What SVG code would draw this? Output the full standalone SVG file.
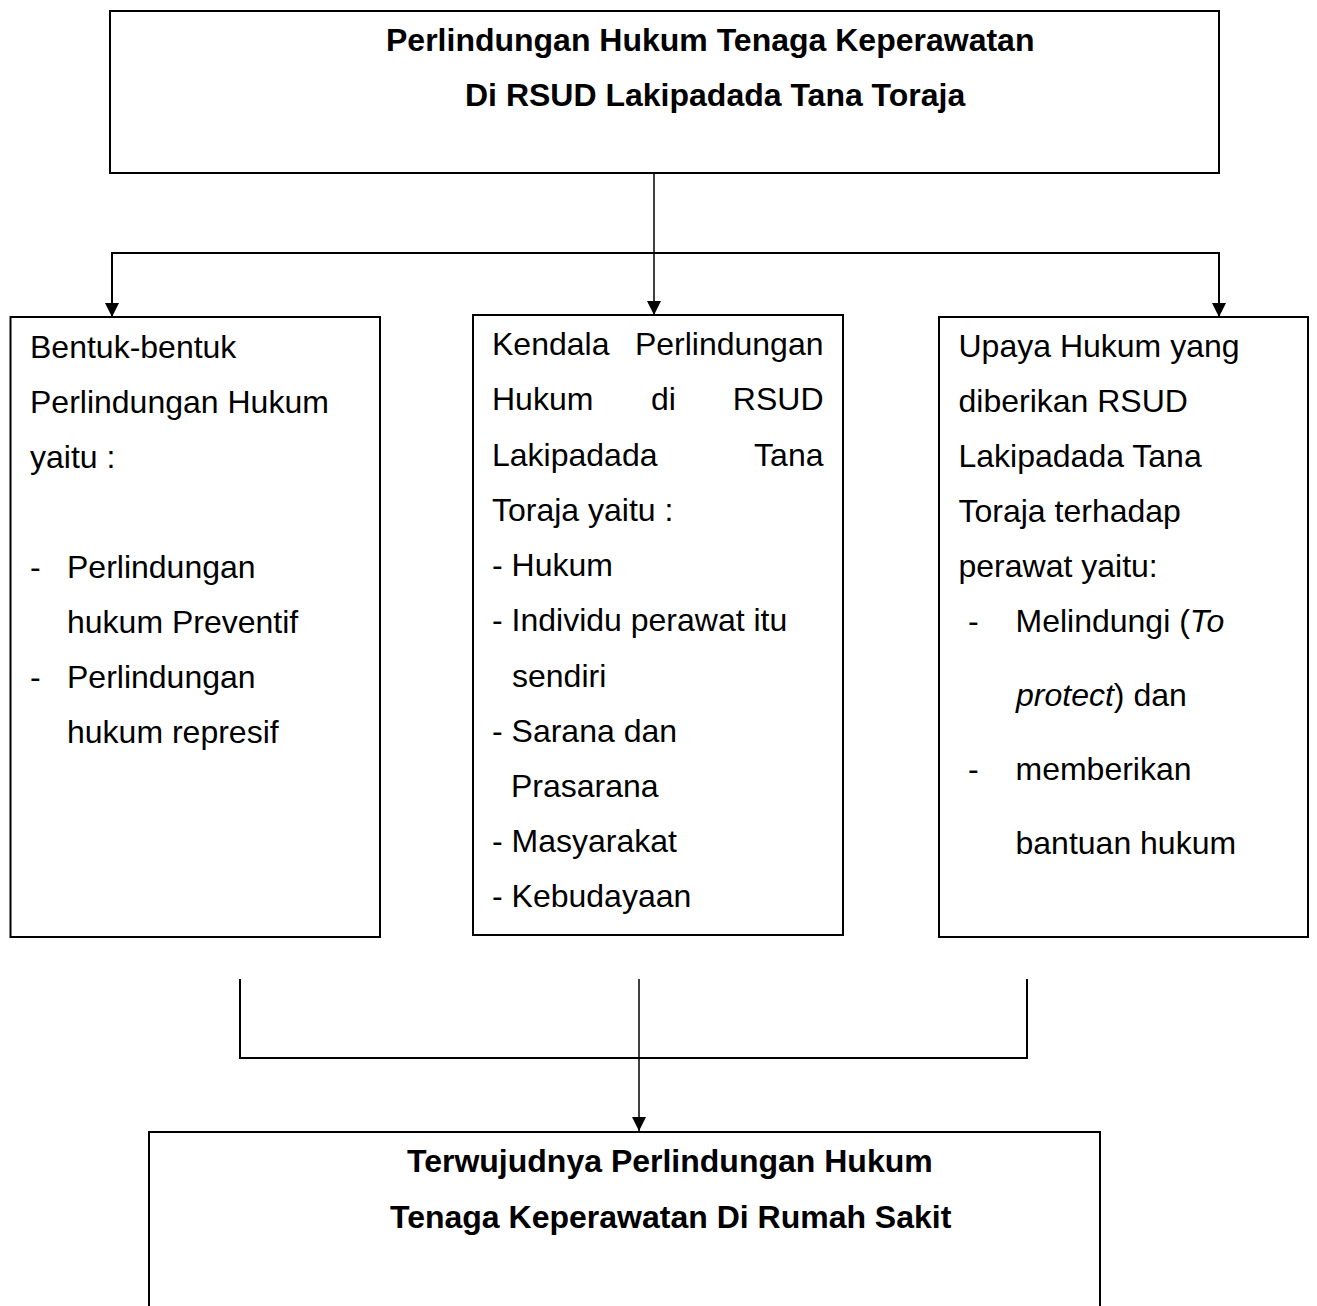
<svg xmlns="http://www.w3.org/2000/svg" width="1317" height="1306" viewBox="0 0 1317 1306">
<style>
.box{fill:#fff;stroke:#000;stroke-width:2}
.t{font-family:"Liberation Sans",Arial,sans-serif;font-size:32px;fill:#000}
.b{font-weight:bold}
.i{font-style:italic}
.c{fill:none;stroke:#000;stroke-width:2}
.c1{fill:none;stroke:#000;stroke-width:1.5}
</style>
<defs>
<marker id="ah" markerUnits="userSpaceOnUse" markerWidth="16" markerHeight="16" refX="14" refY="7" orient="auto">
<path d="M0,0 L14,7 L0,14 z" fill="#000"/>
</marker>
</defs>
<rect width="1317" height="1306" fill="#fff"/>
<g id="connectors">
<line class="c1" x1="654" y1="173" x2="654" y2="315" marker-end="url(#ah)"/>
<line class="c" x1="111" y1="253" x2="1220" y2="253"/>
<line class="c" x1="112" y1="252" x2="112" y2="317" marker-end="url(#ah)"/>
<line class="c" x1="1219" y1="252" x2="1219" y2="317" marker-end="url(#ah)"/>
<line class="c" x1="240" y1="979" x2="240" y2="1058"/>
<line class="c" x1="1027" y1="979" x2="1027" y2="1058"/>
<line class="c" x1="239" y1="1058" x2="1028" y2="1058"/>
<line class="c1" x1="639" y1="979" x2="639" y2="1131" marker-end="url(#ah)"/>
</g>
<g id="node-top">
<rect class="box" x="110" y="11" width="1109" height="162"/>
<text class="t b" x="386" y="51">Perlindungan Hukum Tenaga Keperawatan</text>
<text class="t b" x="465" y="106">Di RSUD Lakipadada Tana Toraja</text>
</g>
<g id="node-bentuk">
<rect class="box" x="10.5" y="317" width="369.5" height="620"/>
<text class="t" x="30" y="358">Bentuk-bentuk</text>
<text class="t" x="30" y="413">Perlindungan Hukum</text>
<text class="t" x="30" y="468">yaitu :</text>
<text class="t" x="30" y="578">-</text>
<text class="t" x="67" y="578">Perlindungan</text>
<text class="t" x="67" y="633">hukum Preventif</text>
<text class="t" x="30" y="688">-</text>
<text class="t" x="67" y="688">Perlindungan</text>
<text class="t" x="67" y="743">hukum represif</text>
</g>
<g id="node-kendala">
<rect class="box" x="473" y="315" width="370" height="620"/>
<text class="t" x="492" y="355">Kendala</text>
<text class="t" x="823.5" y="355" text-anchor="end">Perlindungan</text>
<text class="t" x="492" y="410">Hukum</text>
<text class="t" x="651" y="410">di</text>
<text class="t" x="823.5" y="410" text-anchor="end">RSUD</text>
<text class="t" x="492" y="465.5">Lakipadada</text>
<text class="t" x="823.5" y="465.5" text-anchor="end">Tana</text>
<text class="t" x="492" y="520.5">Toraja yaitu :</text>
<text class="t" x="492" y="576">- Hukum</text>
<text class="t" x="492" y="631">- Individu perawat itu</text>
<text class="t" x="512" y="686.5">sendiri</text>
<text class="t" x="492" y="741.5">- Sarana dan</text>
<text class="t" x="511" y="796.5">Prasarana</text>
<text class="t" x="492" y="852">- Masyarakat</text>
<text class="t" x="492" y="907">- Kebudayaan</text>
</g>
<g id="node-upaya">
<rect class="box" x="939" y="317" width="369" height="620"/>
<text class="t" x="958.5" y="357">Upaya Hukum yang</text>
<text class="t" x="958.5" y="412">diberikan RSUD</text>
<text class="t" x="958.5" y="467">Lakipadada Tana</text>
<text class="t" x="958.5" y="522">Toraja terhadap</text>
<text class="t" x="958.5" y="577">perawat yaitu:</text>
<text class="t" x="968" y="632">-</text>
<text class="t" x="1015.5" y="632">Melindungi (<tspan class="i">To</tspan></text>
<text class="t" x="1016" y="706"><tspan class="i">protect</tspan>) dan</text>
<text class="t" x="968" y="780">-</text>
<text class="t" x="1015.5" y="780">memberikan</text>
<text class="t" x="1015.5" y="854">bantuan hukum</text>
</g>
<g id="node-bottom">
<rect class="box" x="149" y="1132" width="951" height="200"/>
<text class="t b" x="407" y="1172">Terwujudnya Perlindungan Hukum</text>
<text class="t b" x="390" y="1228">Tenaga Keperawatan Di Rumah Sakit</text>
</g>
</svg>
